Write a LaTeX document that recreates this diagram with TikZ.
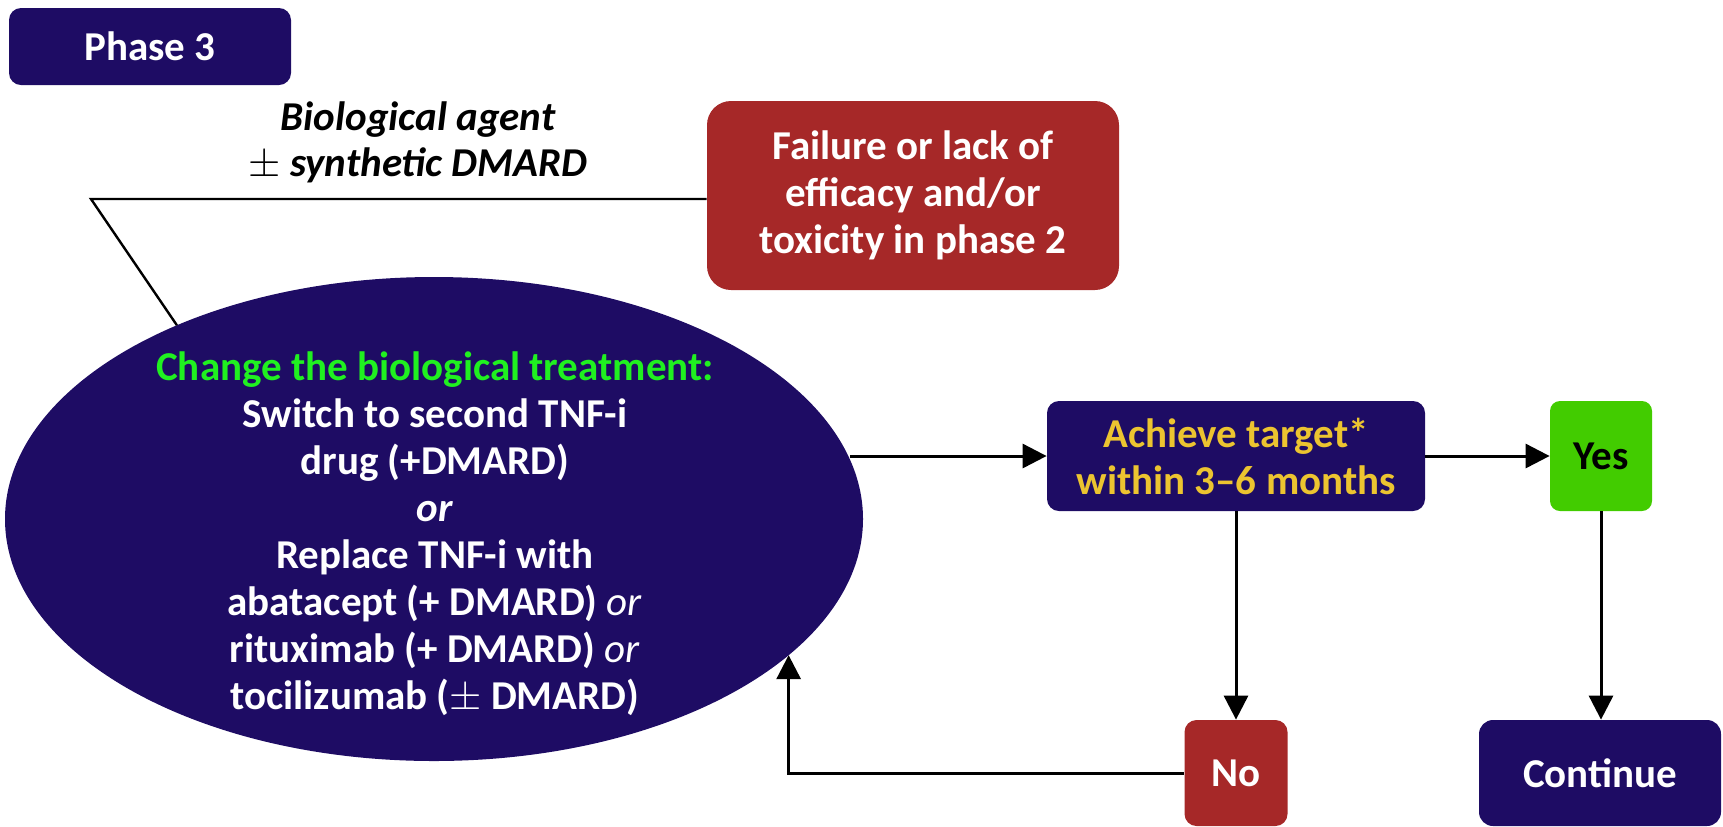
\documentclass[tikz,border=0pt]{standalone}
\usepackage{amsmath}
\usepackage{amssymb}
\usepackage{fontspec}
\setmainfont{Carlito}
\usepackage{tikz}
\usetikzlibrary{shapes.geometric}
\usetikzlibrary{arrows.meta}

\definecolor{navy}{RGB}{30,12,100}
\definecolor{failred}{RGB}{166,40,40}
\definecolor{yesgreen}{RGB}{66,204,0}
\definecolor{headgreen}{RGB}{32,240,32}
\definecolor{targetgold}{RGB}{236,196,48}

\begin{document}
\begin{tikzpicture}[x=0.5pt,y=-0.5pt]
		\tikzset{flowbox/.style={rounded corners=#1, inner sep=0pt, align=center, font=\fontsize{20.5}{23.5}\selectfont\bfseries},
			flowarrow/.style={-{Triangle[length=12pt,width=12pt]}, line width=1.5pt}};
		\useasboundingbox (0,0) rectangle (1723,826);
		% boxes
		\node[flowbox=6pt, fill=navy, text=white, minimum width=141pt, minimum height=38.5pt] (phase) at (150,46.5) {Phase 3};
		\node[flowbox=12pt, fill=failred, text=white, minimum width=206pt, minimum height=94.5pt] (fail) at (913,195.5) {Failure or lack of\\efficacy and/or\\toxicity in phase 2};
		\node[ellipse, fill=navy, inner sep=0pt, outer sep=0pt, minimum width=429pt, minimum height=242pt] (ell) at (434,519) {};
		\node[flowbox=0pt, text=white] (change) at (435,534) {\textcolor{headgreen}{Change the biological treatment:}\\
			Switch to second TNF-i\\drug (+DMARD)\\\textit{or}\\Replace TNF-i with\\
			abatacept (+ DMARD) \textmd{\textit{or}}\\rituximab (+ DMARD) \textmd{\textit{or}}\\tocilizumab ($\pm$ DMARD)};
		\node[flowbox=6pt, fill=navy, text=targetgold, minimum width=189pt, minimum height=55pt] (achieve) at (1236,456) {Achieve target*\\within 3--6 months};
		\node[flowbox=5pt, fill=yesgreen, text=black, minimum width=51pt, minimum height=55pt] (yes) at (1601,456) {Yes};
		\node[flowbox=6pt, fill=failred, text=white, minimum width=51.5pt, minimum height=53pt] (no) at (1236,773) {No};
		\node[flowbox=7pt, fill=navy, text=white, minimum width=121pt, minimum height=53pt] (cont) at (1600,773) {Continue};
		\node[flowbox=0pt, font=\fontsize{20.5}{23}\selectfont\bfseries\itshape] (agent) at (418,142) {Biological agent\\$\pm$ synthetic DMARD};
		% bracket from phase 2 box
		\coordinate (bend) at (91,199);
		\draw[line width=1.2pt] (fail.west |- bend) -- (bend) -- (ell.143.2);
		% arrows
		\draw[flowarrow] (ell.8.65 |- achieve.west) -- (achieve.west);
		\draw[flowarrow] (achieve.east) -- (yes.west);
		\draw[flowarrow] (achieve.south) -- (no.north);
		\draw[flowarrow] (yes.south) -- (yes.south |- cont.north);
		\draw[flowarrow] (no.west) -| (ell.-21.8);
	\end{tikzpicture}
\end{document}
